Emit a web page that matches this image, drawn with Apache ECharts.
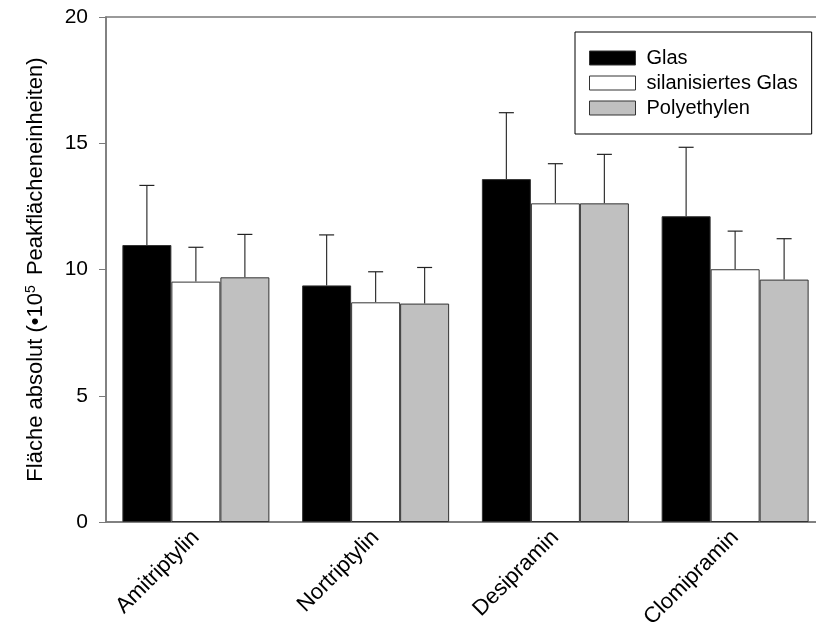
<!DOCTYPE html>
<html>
<head>
<meta charset="utf-8">
<script src="https://cdn.jsdelivr.net/npm/echarts@6/dist/echarts.min.js"></script>
<style>
  html, body { margin: 0; padding: 0; background: #fff; }
  #chart { width: 816px; height: 632px; }
</style>
</head>
<body>
<div id="chart"></div>
<script>
const categories = ['Amitriptylin', 'Nortriptylin', 'Desipramin', 'Clomipramin']
const seriesNames = ['Glas', 'silanisiertes Glas', 'Polyethylen']
const glas = [10.97, 9.37, 13.58, 12.11]
const glasTop = [13.33, 11.37, 16.21, 14.84]
const silan = [9.52, 8.70, 12.62, 10.01]
const silanTop = [10.88, 9.91, 14.19, 11.52]
const poly = [9.69, 8.65, 12.62, 9.60]
const polyTop = [11.39, 10.08, 14.56, 11.22]
const yTicks = [0, 5, 10, 15, 20]

const chart = echarts.init(document.getElementById('chart'))

const barW = 49
const fills = ['#000000', '#ffffff', '#c0c0c0']
const values = [glas, silan, poly]
const tops = [glasTop, silanTop, polyTop]

function errorSeries(idx) {
  return {
    type: 'custom',
    name: seriesNames[idx] + ' err',
    z: 1,
    renderItem: function (params, api) {
      const c = api.value(0)
      const base = api.coord([c, api.value(1)])
      const top = api.coord([c, api.value(2)])
      const x = base[0] + (idx - 1) * barW
      return {
        type: 'group',
        children: [
          { type: 'line', shape: { x1: x, y1: base[1], x2: x, y2: top[1] }, style: { stroke: '#333', lineWidth: 1.2 } },
          { type: 'line', shape: { x1: x - 7.5, y1: top[1], x2: x + 7.5, y2: top[1] }, style: { stroke: '#222', lineWidth: 1.2 } }
        ]
      }
    },
    data: categories.map((c, i) => [i, values[idx][i], tops[idx][i]])
  }
}

const option = {
  animation: false,
  backgroundColor: '#fff',
  textStyle: { fontFamily: 'Liberation Sans, Arial, sans-serif' },
  grid: {
    left: 106, top: 17, height: 505, width: 719,
    outerBoundsMode: 'none',
    containLabel: false,
    show: true, borderColor: '#7a7a7a', borderWidth: 1.5
  },
  legend: {
    data: seriesNames,
    orient: 'vertical',
    left: 575, top: 32,
    padding: [16, 14, 16, 14],
    itemWidth: 46, itemHeight: 14, itemGap: 5,
    borderColor: '#000', borderWidth: 1,
    icon: 'rect',
    itemStyle: { borderWidth: 1 },
    textStyle: { fontSize: 20, color: '#000', padding: [0, 0, 0, 6] }
  },
  xAxis: {
    type: 'category',
    data: categories,
    axisLine: { lineStyle: { color: '#7a7a7a', width: 1.5 } },
    axisTick: { show: false },
    axisLabel: { rotate: 45, fontSize: 22, color: '#000', margin: 12 }
  },
  yAxis: {
    type: 'value',
    min: 0, max: 20, interval: 5,
    name: 'Fläche absolut (•10{sup|5} Peakflächeneinheiten)',
    nameLocation: 'middle',
    nameGap: 58,
    nameTextStyle: {
      fontSize: 22, color: '#000',
      rich: { sup: { fontSize: 14, verticalAlign: 'top', padding: [0, 4, 10, 0], color: '#000' } }
    },
    splitLine: { show: false },
    axisLine: { show: true, lineStyle: { color: '#7a7a7a', width: 1.5 } },
    axisTick: { show: true, length: 7, lineStyle: { color: '#7a7a7a' } },
    axisLabel: {
      fontSize: 21, color: '#000', margin: 18,
      formatter: v => yTicks.includes(v) ? String(v) : ''
    }
  },
  series: [
    ...seriesNames.map((name, i) => ({
      name: name,
      type: 'bar',
      barWidth: barW,
      barGap: '0%',
      z: 2,
      itemStyle: { color: fills[i], borderColor: '#333', borderWidth: 1 },
      data: values[i]
    })),
    errorSeries(0), errorSeries(1), errorSeries(2)
  ]
}
chart.setOption(option)
</script>
</body>
</html>
